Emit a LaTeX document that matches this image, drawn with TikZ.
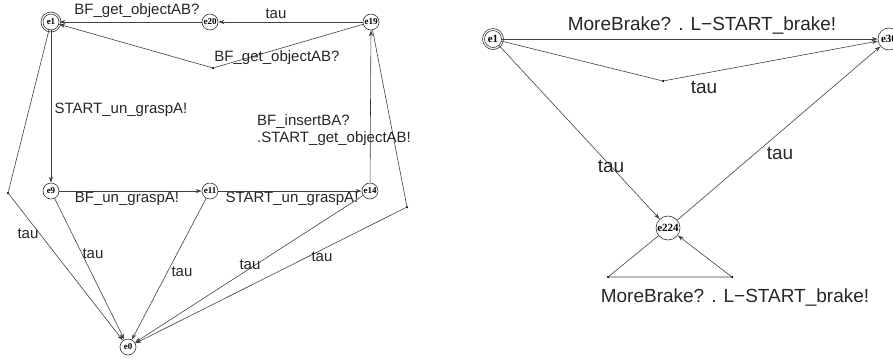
\documentclass[tikz,border=0pt]{standalone}
\usepackage{fontspec}
\setmainfont{Liberation Sans}
\newfontfamily\statefont{Liberation Serif}
\usetikzlibrary{arrows.meta}
\begin{document}
\begin{tikzpicture}[x=1pt,y=-1pt,
  st/.style={circle,draw=black!80,line width=0.6pt,inner sep=0pt,minimum size=16pt,
    font=\statefont\bfseries\fontsize{9}{9}\selectfont},
  stb/.style={st,minimum size=20pt,font=\statefont\bfseries\fontsize{11}{11}\selectfont},
  edge/.style={draw=black!75,line width=0.6pt,-{Stealth[length=6pt,width=4pt]}},
  dot/.style={fill=black,circle,inner sep=0pt,minimum size=2.5pt},
  lbl/.style={font=\fontsize{15}{17}\selectfont,inner sep=0pt,text=black!85},
  lblb/.style={font=\fontsize{19}{21}\selectfont,inner sep=0pt,text=black!85}]
\useasboundingbox (0,0) rectangle (893,360);
\clip (0,0) rectangle (893,360);
% ---------- left automaton ----------
\node[st] (e1) at (51,22) {e1};
\draw[black!80,line width=0.6pt] (e1.center) circle[radius=10];
\node[st] (e20) at (210,22) {e20};
\node[st] (e19) at (371,22) {e19};
\node[st] (e9) at (51,191) {e9};
\node[st] (e11) at (210,191) {e11};
\node[st] (e14) at (370,191) {e14};
\node[st] (e0) at (128,347) {e0};
\node[dot] (b1) at (213,68) {};
\node[dot] (b2) at (8,193) {};
\node[dot] (b3) at (407,207) {};

\draw[edge] (e20) -- (e1);
\draw[edge] (e19) -- (e20);
\draw[edge] (e19) -- (b1) -- (e1);
\draw[edge] (e1) -- (e9);
\draw[edge] (e9) -- (e11);
\draw[edge] (e11) -- (e14);
\draw[edge] (e14) -- (e19);
\draw[edge] (e1) -- (b2) -- (e0);
\draw[edge] (e9) -- (e0);
\draw[edge] (e11) -- (e0);
\draw[edge] (e14) -- (e0);
\draw[edge] (e19) -- (b3) -- (e0);

\node[lbl] (l1) at (137,11) {BF\_get\_objectAB?};
\node[lbl] (l2) at (276,14) {tau};
\node[lbl] (l3) at (277,58) {BF\_get\_objectAB?};
\node[lbl] (l4) at (121,110) {START\_un\_graspA!};
\node[lbl,align=left,anchor=west] (l5) at (257,130) {BF\_insertBA?\\.START\_get\_objectAB!};
\node[lbl] (l6) at (127,199) {BF\_un\_graspA!};
\node[lbl] (l7) at (292,199) {START\_un\_graspA!};
\node[lbl] (l8) at (28,234) {tau};
\node[lbl] (l9) at (93,254) {tau};
\node[lbl] (l10) at (182,272) {tau};
\node[lbl] (l11) at (250,265) {tau};
\node[lbl] (l12) at (322,257) {tau};

% ---------- right automaton ----------
\node[stb,minimum size=17pt] (r1) at (493,39) {e1};
\draw[black!80,line width=0.6pt] (r1.center) circle[radius=10.5];
\node[stb,minimum size=22pt] (r30) at (889,39) {e30};
\node[stb,minimum size=24pt] (r224) at (668,228) {e224};
\node[dot] (c1) at (663,81) {};
\node[dot] (c2) at (608,277) {};
\node[dot] (c3) at (732,277) {};

\draw[edge] (r1) -- (r30);
\draw[edge] (r1) -- (c1) -- (r30);
\draw[edge] (r1) -- (r224);
\draw[edge] (r224) -- (r30);
\draw[edge] (r224) -- (c2) -- (c3) -- (r224);

\node[lblb] (m1) at (702,25) {MoreBrake? . L−START\_brake!};
\node[lblb] (m2) at (704,87) {tau};
\node[lblb] (m3) at (611,166) {tau};
\node[lblb] (m4) at (780,153) {tau};
\node[lblb] (m5) at (735,297) {MoreBrake? . L−START\_brake!};
\end{tikzpicture}
\end{document}
